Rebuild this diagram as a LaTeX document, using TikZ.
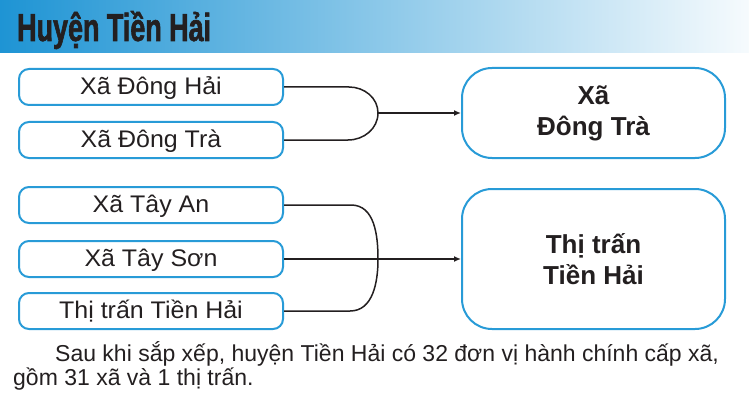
\documentclass[tikz,border=0pt]{standalone}
\usepackage{fontspec}
\setmainfont{Liberation Sans}
\newfontfamily\titrefont[FakeStretch=0.69,FakeBold=1.5]{Liberation Sans}
\newfontfamily\boitefont[FakeStretch=1.04]{Liberation Sans}
\usetikzlibrary{arrows.meta}
\definecolor{bleu}{RGB}{40,155,215}
\definecolor{bandeau}{RGB}{30,148,212}
\definecolor{encre}{RGB}{35,31,32}

\begin{document}
\begin{tikzpicture}[x=1pt,y=-1pt,
    boite/.style={draw=bleu, line width=2pt, rounded corners=10pt, minimum width=264pt,
      minimum height=36pt, inner sep=0pt, text height=18pt, text depth=3pt, text=encre,
      font=\boitefont\fontsize{24}{26}\selectfont},
    grande/.style={draw=bleu, line width=2pt, rounded corners=30pt, minimum width=263pt,
      inner sep=0pt, align=center, text=encre, font=\fontsize{26}{31}\selectfont\bfseries},
    trait/.style={line width=1.5pt, encre},
    fleche/.style={trait, -{Latex[length=7pt,width=6pt]}}]
    \useasboundingbox (0,0) rectangle (749,393);

    % Bandeau
    \shade[left color=bandeau, right color=bandeau!4] (0,0) rectangle (749,53);
    \node[anchor=base west, inner sep=0pt, text=encre] (titre) at (17,41)
      {\titrefont\bfseries\fontsize{39}{39}\selectfont Huyện Tiền Hải};

    % Boites de gauche
    \node[boite] (dh) at (151,87) {Xã Đông Hải};
    \node[boite] (dt) at (151,140) {Xã Đông Trà};
    \node[boite] (ta) at (151,205) {Xã Tây An};
    \node[boite] (ts) at (151,259) {Xã Tây Sơn};
    \node[boite] (tt) at (151,311) {Thị trấn Tiền Hải};

    % Boites de droite
    \node[grande, minimum height=90pt] (xdt) at (593.5,113) {Xã\\Đông Trà};
    \node[grande, minimum height=140pt] (ttr) at (593.5,259) {Thị trấn\\Tiền Hải};

    % Jonctions
    \coordinate (j1) at (378,113);
    \coordinate (j2) at (378,259);

    % Accolade du haut
    \draw[trait] (dh.east) -- ++(65,0) to[out=0,in=90] (j1) to[out=-90,in=0] ++(-30,27) -- (dt.east);
    \draw[fleche] (j1) -- (xdt.west);

    % Accolade du bas
    \draw[trait] (ta.east) -- ++(67,0) to[out=0,in=90] (j2) to[out=-90,in=0] ++(-28,52) -- (tt.east);
    \draw[fleche] (ts.east) -- (ttr.west);

    % Texte
    \node[anchor=base west, inner sep=0pt, text=encre, font=\fontsize{23}{24}\selectfont] (ligne1) at (55,361)
      {Sau khi sắp xếp, huyện Tiền Hải có 32 đơn vị hành chính cấp xã,};
    \node[anchor=base west, inner sep=0pt, text=encre, font=\fontsize{23}{24}\selectfont] (ligne2) at (13,385)
      {gồm 31 xã và 1 thị trấn.};
\end{tikzpicture}
\end{document}
